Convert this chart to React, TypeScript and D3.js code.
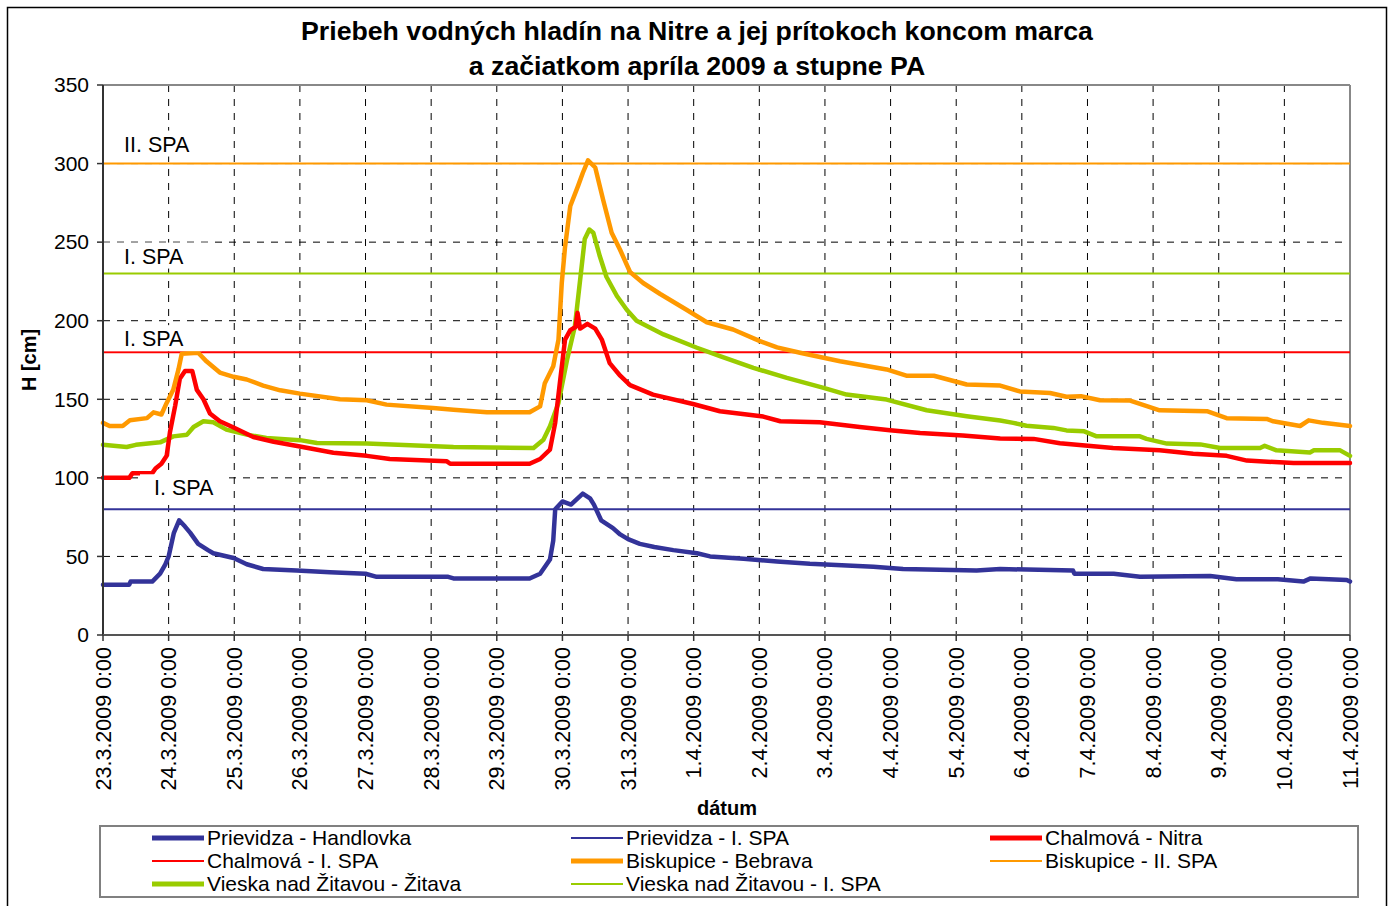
import React from "react";
import * as d3 from "d3";

// ---- data (day offset from 23.3.2009 0:00, water level in cm) ----
const startDate = Date.UTC(2009, 2, 23);
const dayCount = 19;
const tickDayLabels = [
  "23.3.2009 0:00", "24.3.2009 0:00", "25.3.2009 0:00", "26.3.2009 0:00", "27.3.2009 0:00",
  "28.3.2009 0:00", "29.3.2009 0:00", "30.3.2009 0:00", "31.3.2009 0:00", "1.4.2009 0:00",
  "2.4.2009 0:00", "3.4.2009 0:00", "4.4.2009 0:00", "5.4.2009 0:00", "6.4.2009 0:00",
  "7.4.2009 0:00", "8.4.2009 0:00", "9.4.2009 0:00", "10.4.2009 0:00", "11.4.2009 0:00",
];
const yTicks = [0, 50, 100, 150, 200, 250, 300, 350];

const handlovka: [number, number][] = [
  [0, 32], [0.4, 32], [0.42, 34], [0.75, 34], [0.87, 39], [0.95, 45], [1.0, 50], [1.08, 65], [1.16, 73],
  [1.25, 69], [1.33, 65], [1.45, 58], [1.6, 54], [1.68, 52], [1.99, 49], [2.19, 45], [2.44, 42], [2.95, 41],
  [3.46, 40], [4.0, 39], [4.17, 37], [5.26, 37], [5.34, 36], [6.5, 36], [6.66, 39], [6.81, 48], [6.86, 60],
  [6.89, 80], [7.0, 85], [7.13, 83], [7.31, 90], [7.42, 87], [7.48, 83], [7.59, 73], [7.77, 68], [7.88, 64],
  [8.0, 61], [8.18, 58], [8.4, 56], [8.69, 54], [9.05, 52], [9.25, 50], [9.76, 48.5], [10.27, 46.7],
  [10.77, 45.3], [11.74, 43.5], [12.19, 42], [13.31, 41], [13.67, 42], [14.78, 41], [14.8, 39], [15.4, 39],
  [15.8, 37], [16.87, 37.5], [17.27, 35.5], [17.9, 35.5], [18.29, 34], [18.4, 36], [18.95, 35], [19, 34],
];
const nitra: [number, number][] = [
  [0, 100], [0.4, 100], [0.45, 103], [0.75, 103], [0.8, 106], [0.89, 109], [0.97, 114], [1.02, 129],
  [1.1, 146], [1.17, 163], [1.25, 168], [1.36, 168], [1.43, 156], [1.53, 150], [1.63, 141], [1.78, 136],
  [1.99, 132], [2.29, 126], [2.6, 123], [3.0, 120], [3.51, 116], [4.02, 114], [4.37, 112], [5.24, 110.5],
  [5.29, 109], [6.5, 109], [6.66, 112], [6.81, 118], [6.89, 135], [6.96, 160], [7.04, 188], [7.12, 194],
  [7.2, 196], [7.23, 205], [7.27, 195], [7.38, 198], [7.5, 195], [7.6, 188], [7.72, 173], [7.88, 165],
  [8.03, 159], [8.38, 153], [8.99, 147], [9.4, 142.4], [10.06, 139], [10.32, 136], [10.92, 135.4],
  [11.53, 132.4], [11.99, 130.3], [12.45, 128.6], [13.1, 127], [13.67, 125], [14.18, 124.8], [14.58, 122],
  [15.39, 119], [16.1, 117.5], [16.61, 115.4], [17.12, 114], [17.43, 111], [18.14, 109.4], [19, 109.4],
];
const bebrava: [number, number][] = [
  [0, 135], [0.1, 133], [0.3, 133], [0.41, 136.6], [0.67, 138], [0.77, 141.7], [0.89, 140.3], [0.97, 147.7],
  [1.07, 156], [1.15, 169], [1.2, 179], [1.45, 179.6], [1.58, 174], [1.78, 167], [1.99, 164.3], [2.19, 162.6],
  [2.44, 158.7], [2.7, 155.7], [3.0, 153.6], [3.61, 150], [4.02, 149.4], [4.32, 146.6], [5.03, 144.5],
  [5.34, 143.4], [5.85, 141.7], [6.5, 141.7], [6.66, 145.5], [6.73, 160], [6.86, 171], [6.94, 188],
  [6.99, 224], [7.04, 247], [7.12, 273], [7.24, 286], [7.31, 294], [7.39, 302], [7.5, 297.5], [7.62, 277],
  [7.75, 256], [7.88, 245], [8.03, 231], [8.23, 224], [8.49, 217], [8.89, 207], [9.2, 199], [9.6, 194.4],
  [10.01, 187], [10.27, 183], [10.62, 179.6], [11.23, 174.2], [11.94, 169], [12.24, 165], [12.66, 165],
  [13.16, 159.4], [13.67, 158.7], [13.97, 155], [14.43, 154], [14.68, 151.6], [14.9, 152], [15.19, 149.4],
  [15.65, 149.2], [16.1, 143], [16.82, 142.4], [17.12, 138], [17.73, 137.5], [17.83, 136], [18.24, 133],
  [18.37, 136.6], [18.59, 135], [19, 133],
];
const zitava: [number, number][] = [
  [0, 121], [0.36, 119.6], [0.5, 121], [0.87, 122.6], [1.07, 126.4], [1.28, 127.5], [1.38, 132.4],
  [1.53, 136], [1.68, 135.4], [1.88, 130.7], [2.19, 127.5], [2.49, 125.4], [3.0, 124], [3.26, 122.2],
  [4.02, 121.8], [5.34, 119.7], [6.56, 119], [6.71, 124.3], [6.81, 132.8], [6.94, 147.7], [7.07, 175],
  [7.19, 196.5], [7.27, 226], [7.34, 252], [7.41, 258], [7.47, 256], [7.57, 241], [7.67, 228], [7.83, 215.7],
  [7.98, 207], [8.13, 200], [8.54, 191.3], [9.05, 182.8], [9.4, 177.4], [9.91, 170], [10.42, 163.6],
  [10.98, 157.3], [11.33, 153], [11.94, 149.8], [12.55, 143], [13.16, 139.2], [13.67, 136.5], [13.87, 135],
  [14.07, 133.2], [14.48, 131.8], [14.68, 130.2], [14.95, 129.6], [15.14, 126.4], [15.8, 126.4],
  [15.9, 124.8], [16.21, 121.8], [16.72, 121.3], [17.02, 119], [17.63, 119], [17.7, 120.4], [17.88, 117.5],
  [18.39, 116.2], [18.45, 117.5], [18.85, 117.5], [19, 114],
];

const spaPrievidza = 80;
const spaChalmova = 180;
const spaBiskupice = 300;
const spaVieska = 230;

const BLUE = "#333399";
const RED = "#FF0000";
const ORANGE = "#FF9900";
const GREEN = "#99CC00";

const seriesList = [
  { name: "Prievidza - Handlovka", data: handlovka, color: BLUE },
  { name: "Vieska nad Žitavou - Žitava", data: zitava, color: GREEN },
  { name: "Chalmová - Nitra", data: nitra, color: RED },
  { name: "Biskupice - Bebrava", data: bebrava, color: ORANGE },
];
const spaList = [
  { value: spaPrievidza, color: BLUE },
  { value: spaChalmova, color: RED },
  { value: spaVieska, color: GREEN },
  { value: spaBiskupice, color: ORANGE },
];
const legendItems = [
  { name: "Prievidza - Handlovka", color: BLUE, thick: true },
  { name: "Prievidza - I. SPA", color: BLUE, thick: false },
  { name: "Chalmová - Nitra", color: RED, thick: true },
  { name: "Chalmová - I. SPA", color: RED, thick: false },
  { name: "Biskupice - Bebrava", color: ORANGE, thick: true },
  { name: "Biskupice - II. SPA", color: ORANGE, thick: false },
  { name: "Vieska nad Žitavou - Žitava", color: GREEN, thick: true },
  { name: "Vieska nad Žitavou - I. SPA", color: GREEN, thick: false },
];
const spaLabels = [
  { text: "II. SPA", value: spaBiskupice, dx: 21, dy: -12, box: [103, 206] },
  { text: "I. SPA", value: spaVieska, dx: 21, dy: -10, box: [103, 212] },
  { text: "I. SPA", value: spaChalmova, dx: 21, dy: -6, box: [103, 202] },
  { text: "I. SPA", value: spaPrievidza, dx: 51, dy: -14, box: [140, 228] },
];

const W = 1393;
const H = 906;
const L = 103, R = 1350, T = 85, B = 635;
const FONT = "Liberation Sans, Arial, sans-serif";

export default function App() {
  const toDate = (d: number) => new Date(startDate + d * 86400000);
  const x = d3.scaleUtc().domain([toDate(0), toDate(dayCount)]).range([L, R]);
  const y = d3.scaleLinear().domain([0, 350]).range([B, T]);
  const line = d3
    .line<[number, number]>()
    .x((p) => x(toDate(p[0])))
    .y((p) => y(p[1]));
  const days = d3.range(0, dayCount + 1);

  return (
    <svg width={W} height={H} style={{ position: "absolute", left: 0, top: 0, background: "#fff" }} fontFamily={FONT}>
      <rect x={0} y={0} width={W} height={H} fill="#fff" />
      <rect x={7.5} y={7.5} width={1379} height={930} fill="none" stroke="#000" strokeWidth={1.5} />
      {/* title */}
      <text x={697} y={40} textAnchor="middle" fontWeight="bold" fontSize={26.7}>
        Priebeh vodných hladín na Nitre a jej prítokoch koncom marca
      </text>
      <text x={697} y={75} textAnchor="middle" fontWeight="bold" fontSize={26.7}>
        a začiatkom apríla 2009 a stupne PA
      </text>
      {/* grid */}
      {days.slice(1, -1).map((d) => (
        <line key={"vg" + d} x1={x(toDate(d))} x2={x(toDate(d))} y1={T} y2={B} stroke="#000" strokeWidth={1} strokeDasharray="7,7" />
      ))}
      {yTicks.slice(1, -1).map((v) => (
        <line key={"hg" + v} x1={L} x2={R} y1={y(v)} y2={y(v)} stroke="#000" strokeWidth={1} strokeDasharray="7,7" />
      ))}
      {/* frame */}
      <line x1={L} x2={R} y1={T} y2={T} stroke="#888" strokeWidth={2} />
      <line x1={R} x2={R} y1={T} y2={B} stroke="#888" strokeWidth={2} />
      {/* SPA lines */}
      {spaList.map((s, i) => (
        <line key={"spa" + i} x1={L} x2={R} y1={y(s.value)} y2={y(s.value)} stroke={s.color} strokeWidth={2} />
      ))}
      {/* data */}
      {seriesList.map((s) => (
        <path key={s.name} d={line(s.data) || ""} fill="none" stroke={s.color} strokeWidth={4.5} strokeLinejoin="round" strokeLinecap="round" />
      ))}
      {/* SPA labels */}
      {spaLabels.map((l, i) => (
        <g key={"lab" + i}>
          <rect x={l.box[0]} y={y(l.value) + l.dy - 21} width={l.box[1] - l.box[0]} height={26} fill="#fff" />
          <text x={L + l.dx} y={y(l.value) + l.dy} fontSize={21.5}>
            {l.text}
          </text>
        </g>
      ))}
      {/* axes */}
      <line x1={L} x2={L} y1={T} y2={B} stroke="#333" strokeWidth={2} />
      <line x1={L} x2={R} y1={B} y2={B} stroke="#555" strokeWidth={2} />
      {yTicks.map((v) => (
        <g key={"yt" + v}>
          <line x1={L - 6} x2={L} y1={y(v)} y2={y(v)} stroke="#333" strokeWidth={1.5} />
          <text x={L - 14} y={y(v)} dy="0.35em" textAnchor="end" fontSize={21}>
            {v}
          </text>
        </g>
      ))}
      {days.map((d) => (
        <g key={"xt" + d}>
          <line x1={x(toDate(d))} x2={x(toDate(d))} y1={B} y2={B + 6} stroke="#333" strokeWidth={1.5} />
          <text
            transform={`translate(${x(toDate(d))},${B + 12}) rotate(-90)`}
            textAnchor="end"
            dy="0.35em"
            fontSize={21.5}
          >
            {tickDayLabels[d]}
          </text>
        </g>
      ))}
      <text transform={`translate(36,360) rotate(-90)`} textAnchor="middle" fontWeight="bold" fontSize={20}>
        H [cm]
      </text>
      <text x={727} y={815} textAnchor="middle" fontWeight="bold" fontSize={20}>
        dátum
      </text>
      {/* legend */}
      <rect x={100} y={826} width={1258} height={71} fill="#fff" stroke="#808080" strokeWidth={2} />
      {legendItems.map((it, i) => {
        const col = i % 3;
        const row = Math.floor(i / 3);
        const lx = [152, 571, 990][col];
        const ly = 838 + row * 23;
        return (
          <g key={"lg" + i}>
            <line x1={lx} x2={lx + 52} y1={ly} y2={ly} stroke={it.color} strokeWidth={it.thick ? 5 : 2} />
            <text x={lx + 55} y={ly} dy="0.35em" fontSize={21}>
              {it.name}
            </text>
          </g>
        );
      })}
    </svg>
  );
}
